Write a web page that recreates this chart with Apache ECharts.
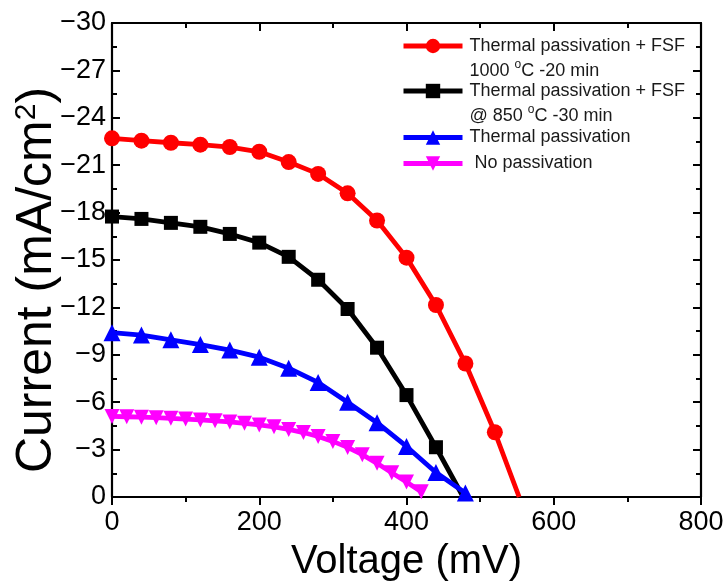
<!DOCTYPE html>
<html>
<head>
<meta charset="utf-8">
<script src="https://cdn.jsdelivr.net/npm/echarts@6/dist/echarts.min.js"></script>
<style>
  html, body { margin: 0; padding: 0; background: #fff; }
  #chart { width: 727px; height: 584px; }
</style>
</head>
<body>
<div id="chart"></div>
<script>
// J–V curves of the cells, current density in mA/cm² (negative = generated)
const seriesNames = [
  'Thermal passivation + FSF\n1000 °C -20 min',
  'Thermal passivation + FSF\n@ 850 °C -30 min',
  'Thermal passivation',
  ' No passivation'
];

const voltageFsf1000 = [0, 40, 80, 120, 160, 200, 240, 280, 320, 360, 400, 440, 480, 520];
const currentFsf1000 = [-22.7, -22.55, -22.42, -22.3, -22.15, -21.85, -21.2, -20.45, -19.22, -17.5, -15.15, -12.15, -8.45, -4.1];
const vocFsf1000 = 553;

const voltageFsf850 = [0, 40, 80, 120, 160, 200, 240, 280, 320, 360, 400, 440];
const currentFsf850 = [-17.75, -17.6, -17.35, -17.1, -16.65, -16.1, -15.2, -13.75, -11.9, -9.45, -6.45, -3.15];
const vocFsf850 = 477;

const voltageThermal = [0, 40, 80, 120, 160, 200, 240, 280, 320, 360, 400, 440, 480];
const currentThermal = [-10.4, -10.25, -9.95, -9.65, -9.3, -8.85, -8.15, -7.25, -6.0, -4.7, -3.2, -1.55, -0.25];

const voltageNone = [0, 20, 40, 60, 80, 100, 120, 140, 160, 180, 200, 220, 240, 260, 280, 300, 320, 340, 360, 380, 400, 420];
const currentNone = [-5.1, -5.08, -5.05, -5.02, -4.98, -4.93, -4.88, -4.82, -4.75, -4.66, -4.56, -4.44, -4.28, -4.08, -3.83, -3.52, -3.14, -2.68, -2.13, -1.54, -0.95, -0.33];

const xTicks = { min: 0, max: 800, step: 200 };
const yTicks = { min: -30, max: 0, step: 3 };

const FONT = 'Liberation Sans';

function pairs(xs, ys) {
  return xs.map((x, i) => [x, ys[i]]);
}
// measured points plus the open-circuit point on the axis (no marker there)
function withVoc(xs, ys, voc) {
  const d = pairs(xs, ys);
  if (voc != null) d.push({ value: [voc, 0], symbol: 'none' });
  return d;
}

const chart = echarts.init(document.getElementById('chart'), null, { renderer: 'canvas' });

const axisLineStyle = { color: '#000', width: 2.2 };
const tickStyle = { color: '#000', width: 2 };

function lineSeries(name, data, color, symbol, size, rotate) {
  return {
    name, type: 'line', data,
    xAxisIndex: 0, yAxisIndex: 0,
    symbol, symbolSize: size, symbolRotate: rotate || 0,
    showAllSymbol: true,
    clip: false,
    lineStyle: { color, width: 4.8 },
    itemStyle: { color, borderWidth: 0 },
    emphasis: { disabled: true },
    animation: false,
    z: 3
  };
}

const legendRich = {
  sup: { fontSize: 12, fontFamily: FONT, color: '#1a1a1a', lineHeight: 12, verticalAlign: 'top' }
};
function legendFor(name, top, twoLine) {
  return {
    data: [name],
    orient: 'vertical',
    left: 396,
    top,
    itemWidth: 59,
    itemHeight: 18,
    itemGap: 0,
    selectedMode: false,
    lineStyle: { width: 5 },
    formatter: n => n.replace('°', '{sup|o}'),
    textStyle: {
      fontSize: 18, fontFamily: FONT, color: '#1a1a1a', lineHeight: 25,
      padding: twoLine ? [25, 0, 0, 2] : [0, 0, 0, 2],
      rich: legendRich
    }
  };
}

const option = {
  backgroundColor: '#fff',
  animation: false,
  grid: { left: 112, right: 26, top: 23, bottom: 87, containLabel: false, outerBoundsMode: 'none' },
  legend: [
    legendFor(seriesNames[0], 3.5, true),
    legendFor(seriesNames[1], 48.5, true),
    legendFor(seriesNames[2], 120, false),
    legendFor(seriesNames[3], 146, false)
  ],
  xAxis: [
    {
      type: 'value', position: 'bottom',
      min: xTicks.min, max: xTicks.max, interval: xTicks.step,
      name: 'Voltage (mV)', nameLocation: 'middle', nameGap: 45,
      nameMoveOverlap: false,
      nameTextStyle: { fontSize: 40, fontFamily: FONT, color: '#000' },
      axisLine: { show: true, onZero: false, lineStyle: axisLineStyle },
      axisTick: { show: true, inside: false, length: 8, lineStyle: tickStyle },
      minorTick: { show: true, splitNumber: 2, length: 5, lineStyle: tickStyle },
      axisLabel: { fontSize: 27, fontFamily: FONT, color: '#000', margin: 12 },
      splitLine: { show: false }
    },
    {
      type: 'value', position: 'top',
      min: xTicks.min, max: xTicks.max, interval: xTicks.step,
      axisLine: { show: true, onZero: false, lineStyle: axisLineStyle },
      axisTick: { show: true, inside: true, length: 8, lineStyle: tickStyle },
      minorTick: { show: true, splitNumber: 2, length: 5, lineStyle: tickStyle },
      axisLabel: { show: false },
      splitLine: { show: false }
    }
  ],
  yAxis: [
    {
      type: 'value', position: 'left', inverse: true,
      min: yTicks.min, max: yTicks.max, interval: yTicks.step,
      name: 'Current (mA/cm{sup|2})', nameLocation: 'middle', nameGap: 50,
      nameMoveOverlap: false,
      nameTextStyle: {
        fontSize: 50, fontFamily: FONT, color: '#000',
        padding: [0, 40, 0, 0],
        rich: { sup: { fontSize: 30, fontFamily: FONT, color: '#000', lineHeight: 30, verticalAlign: 'top' } }
      },
      axisLine: { show: true, onZero: false, lineStyle: axisLineStyle },
      axisTick: { show: true, inside: true, length: 8, lineStyle: tickStyle },
      minorTick: { show: true, splitNumber: 2, length: 5, lineStyle: tickStyle },
      axisLabel: {
        fontSize: 27, fontFamily: FONT, color: '#000', margin: 6,
        formatter: v => (v < 0 ? '\u2212' + Math.abs(v) : String(v))
      },
      splitLine: { show: false }
    },
    {
      type: 'value', position: 'right', inverse: true,
      min: yTicks.min, max: yTicks.max, interval: yTicks.step,
      axisLine: { show: true, onZero: false, lineStyle: axisLineStyle },
      axisTick: { show: true, inside: true, length: 8, lineStyle: tickStyle },
      minorTick: { show: true, splitNumber: 2, length: 5, lineStyle: tickStyle },
      axisLabel: { show: false },
      splitLine: { show: false }
    }
  ],
  series: [
    lineSeries(seriesNames[0], withVoc(voltageFsf1000, currentFsf1000, vocFsf1000), '#ff0000', 'circle', 16),
    lineSeries(seriesNames[1], withVoc(voltageFsf850, currentFsf850, vocFsf850), '#000000', 'rect', 14),
    lineSeries(seriesNames[2], pairs(voltageThermal, currentThermal), '#0000ff', 'triangle', 17),
    lineSeries(seriesNames[3], pairs(voltageNone, currentNone), '#ff00ff', 'triangle', 15, 180)
  ]
};

chart.setOption(option);
</script>
</body>
</html>
